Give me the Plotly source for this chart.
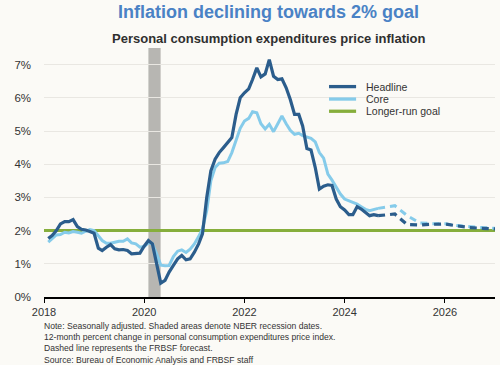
import pandas as pd
import plotly.graph_objects as go

# ---------------- data ----------------
# Monthly 12-month PCE inflation, Jan 2018 .. Aug 2024 (plotted at month end)
first_month = "2018-01"
headline = [1.76, 1.85, 2.00, 2.20, 2.27, 2.27, 2.33, 2.12, 2.04, 2.02, 1.97, 1.92,
            1.47, 1.40, 1.50, 1.58, 1.45, 1.42, 1.43, 1.40, 1.30, 1.32, 1.32, 1.53,
            1.70, 1.60, 1.05, 0.42, 0.50, 0.75, 0.95, 1.15, 1.25, 1.12, 1.15, 1.35,
            1.60, 1.90, 3.00, 3.80, 4.15, 4.35, 4.50, 4.65, 4.80, 5.50, 6.00, 6.15,
            6.27, 6.55, 6.90, 6.63, 6.72, 7.15, 6.65, 6.55, 6.57, 6.30, 5.95, 5.50,
            5.50, 5.15, 4.47, 4.43, 3.90, 3.25, 3.34, 3.38, 3.36, 2.95, 2.72, 2.62,
            2.48, 2.48, 2.72, 2.65, 2.55, 2.45, 2.48, 2.45]
core = [1.65, 1.75, 1.87, 1.88, 1.95, 1.93, 1.97, 1.95, 1.92, 1.98, 2.03, 2.00,
        1.83, 1.70, 1.62, 1.62, 1.65, 1.68, 1.68, 1.75, 1.63, 1.60, 1.50, 1.52,
        1.63, 1.60, 1.30, 0.96, 0.94, 0.95, 1.22, 1.38, 1.42, 1.34, 1.44, 1.60,
        1.82, 2.05, 2.60, 3.50, 3.90, 4.03, 4.04, 4.08, 4.35, 4.75, 5.08, 5.30,
        5.38, 5.58, 5.55, 5.22, 5.06, 5.20, 4.98, 5.22, 5.45, 5.22, 5.02, 4.90,
        4.93, 4.86, 4.82, 4.78, 4.67, 4.35, 4.18, 3.70, 3.52, 3.30, 3.10, 2.95,
        2.90, 2.84, 2.80, 2.72, 2.64, 2.60, 2.63, 2.67]

# FRBSF forecast, quarterly Q4 2024 .. Q4 2026 (plotted at quarter end)
forecast_quarters = ["2024Q4", "2025Q1", "2025Q2", "2025Q3", "2025Q4",
                     "2026Q1", "2026Q2", "2026Q3", "2026Q4"]
headline_fc = [2.50, 2.18, 2.17, 2.19, 2.20, 2.14, 2.09, 2.07, 2.05]
core_fc = [2.75, 2.45, 2.23, 2.21, 2.21, 2.15, 2.11, 2.09, 2.07]

goal = 2.0
recession = ("2020-02-01", "2020-04-30")
year_ticks = [2018, 2020, 2022, 2024, 2026]
pct_ticks = [0, 1, 2, 3, 4, 5, 6, 7]

# ---------------- positions ----------------
months = pd.period_range(first_month, periods=len(headline), freq="M")
x_month = [p.end_time.normalize() + pd.Timedelta(days=1) for p in months]
quarters = pd.PeriodIndex(forecast_quarters, freq="Q")
x_q = [p.end_time.normalize() + pd.Timedelta(days=1) for p in quarters]

C_HEAD = "#2b5d8c"
C_CORE = "#85cbea"
C_GOAL = "#86ae3c"
BG = "#fbfaf6"
FONT = "Arial, Liberation Sans, sans-serif"

fig = go.Figure()

# goal line
fig.add_trace(go.Scatter(x=[pd.Timestamp("2018-01-01"), pd.Timestamp("2027-01-01")],
                         y=[goal, goal], mode="lines",
                         line=dict(color=C_GOAL, width=3), hoverinfo="skip"))
# forecasts (dashed, joined to last actual)
fig.add_trace(go.Scatter(x=[x_month[-1]] + x_q, y=[core[-1]] + core_fc, mode="lines",
                         line=dict(color=C_CORE, width=3, dash="7px,5px")))
fig.add_trace(go.Scatter(x=[x_month[-1]] + x_q, y=[headline[-1]] + headline_fc, mode="lines",
                         line=dict(color=C_HEAD, width=3.2, dash="7px,5px")))
# actuals
fig.add_trace(go.Scatter(x=x_month, y=core, mode="lines",
                         line=dict(color=C_CORE, width=3)))
fig.add_trace(go.Scatter(x=x_month, y=headline, mode="lines",
                         line=dict(color=C_HEAD, width=3.2)))

# recession shading
fig.add_shape(type="rect", xref="x", yref="paper", x0=recession[0], x1=recession[1],
              y0=0, y1=1, fillcolor="#b7b6b2", line_width=0, layer="below")

# manual legend
leg_items = [("Headline", C_HEAD), ("Core", C_CORE), ("Longer-run goal", C_GOAL)]
leg_y = [0.845, 0.795, 0.746]
for (name, col), yy in zip(leg_items, leg_y):
    fig.add_shape(type="line", xref="paper", yref="paper", x0=0.632, x1=0.692,
                  y0=yy, y1=yy, line=dict(color=col, width=3.3))
    fig.add_annotation(xref="paper", yref="paper", x=0.709, y=yy, text=name,
                       showarrow=False, xanchor="left", yanchor="middle",
                       font=dict(family=FONT, size=10.5, color="#333333"))

# titles
fig.add_annotation(xref="paper", yref="paper", x=0.498, y=1.145,
                   text="<b>Inflation declining towards 2% goal</b>", showarrow=False,
                   xanchor="center", yanchor="middle",
                   font=dict(family=FONT, size=18, color="#4a82c5"))
fig.add_annotation(xref="paper", yref="paper", x=0.499, y=1.040,
                   text="<b>Personal consumption expenditures price inflation</b>",
                   showarrow=False, xanchor="center", yanchor="middle",
                   font=dict(family=FONT, size=13, color="#2f2f2f"))

# notes
notes = ["Note: Seasonally adjusted. Shaded areas denote NBER recession dates.",
         "12-month percent change in personal consumption expenditures price index.",
         "Dashed line represents the FRBSF forecast.",
         "Source: Bureau of Economic Analysis and FRBSF staff"]
fig.add_annotation(xref="paper", yref="paper", x=-0.004, y=-0.088,
                   text="<br>".join(notes), align="left",
                   showarrow=False, xanchor="left", yanchor="top",
                   font=dict(family=FONT, size=8.6, color="#333333"))

fig.update_layout(
    width=500, height=365,
    margin=dict(l=44, r=5, t=48, b=68),
    paper_bgcolor=BG, plot_bgcolor=BG,
    showlegend=False,
    font=dict(family=FONT, color="#333333"),
    xaxis=dict(type="date", range=["2018-01-01", "2027-01-01"],
               tickvals=[f"{y}-01-01" for y in year_ticks],
               ticktext=[str(y) for y in year_ticks],
               showgrid=False, zeroline=False,
               showline=True, linecolor="black", linewidth=2,
               ticks="outside", ticklen=4, tickcolor="black", tickwidth=1,
               tickfont=dict(family=FONT, size=11, color="#333333")),
    yaxis=dict(range=[0, 7.5], tickvals=pct_ticks,
               ticktext=[f"{v}%" for v in pct_ticks],
               showgrid=True, gridcolor="#e9e7e2", gridwidth=1,
               zeroline=False, showline=False, ticks="",
               ticklabelstandoff=12,
               tickfont=dict(family=FONT, size=11.5, color="#333333")),
)

fig.write_html("out.html",
               config={"displayModeBar": False},
               post_script="document.body.style.margin='0px';"
                           "document.body.style.background='#fbfaf6';")
